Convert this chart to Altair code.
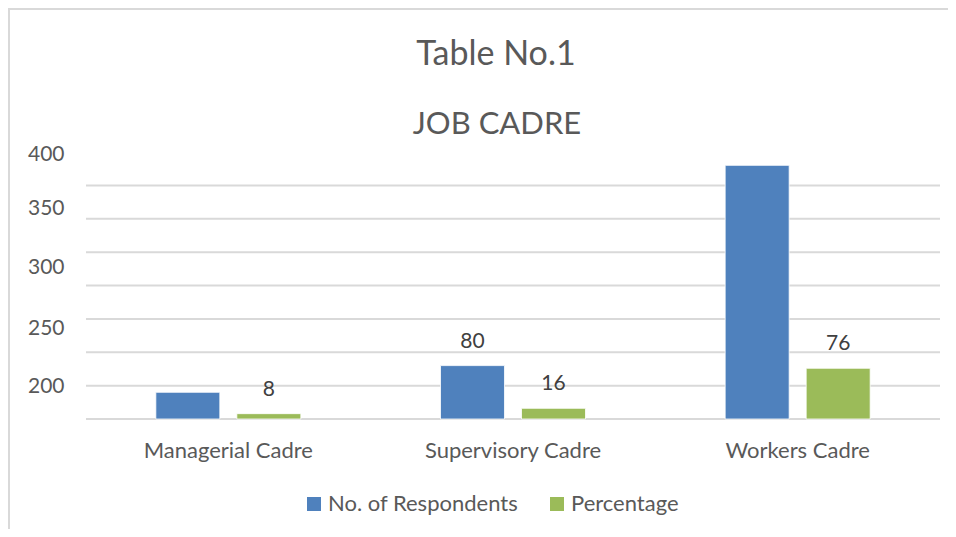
import altair as alt
import pandas as pd

categories = ["Managerial Cadre", "Supervisory Cadre", "Workers Cadre"]
series_names = ["No. of Respondents", "Percentage"]
respondents = [40, 80, 380]
percentage = [8, 16, 76]
respondent_labels = ["", "80", ""]
percentage_labels = ["8", "16", "76"]
grid_values = [0, 50, 100, 150, 200, 250, 300, 350]
ytick_positions = [48, 136, 227, 316, 397]
ytick_labels = ["200", "250", "300", "350", "400"]
colors = ["#4F81BD", "#9BBB59"]
title_lines = ["Table No.1", "JOB CADRE"]

rows = []
for i, c in enumerate(categories):
    rows.append({"cat": c, "series": series_names[0], "value": respondents[i], "label": respondent_labels[i]})
    rows.append({"cat": c, "series": series_names[1], "value": percentage[i], "label": percentage_labels[i]})
df = pd.DataFrame(rows)
grid_df = pd.DataFrame({"value": grid_values})

label_expr = " : ".join(f"datum.value == {p} ? '{t}'" for p, t in zip(ytick_positions, ytick_labels)) + " : ''"

FONT = "Lato"
TXT = "#595959"

yscale = alt.Scale(domain=[0, 400], nice=False, zero=True)
yaxis = alt.Axis(title=None, values=ytick_positions, labelExpr=label_expr, grid=False, ticks=False,
                 domain=False, labelFontSize=21, labelFont=FONT, labelColor=TXT, labelPadding=22)

xenc = alt.X("cat:N", sort=categories, scale=alt.Scale(paddingInner=0, paddingOuter=0),
             axis=alt.Axis(title=None, labelFontSize=22, labelFont=FONT, labelColor=TXT, labelPadding=21,
                           ticks=False, domain=False, labelAngle=0, grid=False))
xoff = alt.XOffset("series:N", sort=series_names, scale=alt.Scale(paddingInner=0.21, paddingOuter=0.862))

frame = alt.Chart(pd.DataFrame({"a": [0]})).mark_rect(fillOpacity=0, stroke="#D9D9D9", strokeWidth=2).encode(
    x=alt.value(-77), x2=alt.value(1000), y=alt.value(-143), y2=alt.value(1000)
)

title1 = alt.Chart(pd.DataFrame({"t": [title_lines[0]]})).mark_text(
    fontSize=34, font=FONT, color=TXT, align="center", baseline="middle"
).encode(text="t:N", x=alt.value(410), y=alt.value(-97))

title2 = alt.Chart(pd.DataFrame({"t": [title_lines[1]]})).mark_text(
    fontSize=31, font=FONT, color=TXT, align="center", baseline="middle"
).encode(text="t:N", x=alt.value(411), y=alt.value(-27))

grid = alt.Chart(grid_df).mark_rule(color="#D9D9D9", strokeWidth=2).encode(
    y=alt.Y("value:Q", scale=yscale, axis=yaxis)
)

bars = alt.Chart(df).mark_bar(stroke="white", strokeWidth=0.8).encode(
    x=xenc,
    xOffset=xoff,
    y=alt.Y("value:Q", scale=yscale, axis=yaxis),
    color=alt.Color("series:N", sort=series_names,
                    scale=alt.Scale(domain=series_names, range=colors),
                    legend=alt.Legend(title=None, orient="none", legendX=217, legendY=341,
                                      direction="horizontal", symbolType="square", symbolSize=196,
                                      symbolStrokeWidth=0, labelFontSize=22, labelFont=FONT,
                                      labelColor=TXT, columnPadding=27, labelOffset=3, labelLimit=400)),
)

texts = alt.Chart(df).mark_text(dy=-24, baseline="middle", align="center", fontSize=21, font=FONT,
                                color="#404040").encode(
    x=xenc,
    xOffset=xoff,
    y=alt.Y("value:Q", scale=yscale, axis=yaxis),
    text="label:N",
)

chart = alt.layer(frame, title1, title2, grid, bars, texts).properties(
    width=854,
    height=267,
    padding={"left": 78, "top": 144, "right": 8, "bottom": 110},
    autosize=alt.AutoSizeParams(type="none"),
).configure_view(stroke=None)

chart.save("out.html", embed_options={"renderer": "svg", "actions": False})
